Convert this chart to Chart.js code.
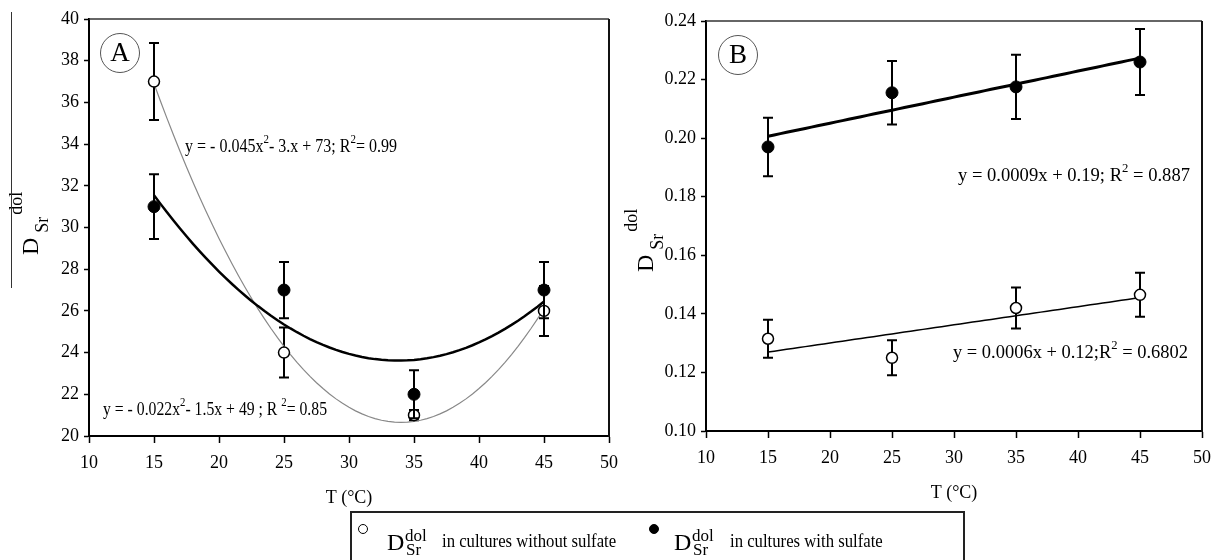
<!DOCTYPE html>
<html>
<head>
<meta charset="utf-8">
<script src="https://cdn.jsdelivr.net/npm/chart.js@4.4.1/dist/chart.umd.min.js"></script>
<style>
  body { margin: 0; background: #fff; width: 1211px; height: 560px; overflow: hidden; position: relative;
         font-family: "Liberation Serif", "Times New Roman", serif; color: #000; }
  .wrap { position: absolute; top: 0; height: 520px; }
  #wrapA { left: 0; width: 640px; }
  #wrapB { left: 610px; width: 620px; }
  #legend { position: absolute; left: 350px; top: 511px; width: 615px; height: 60px;
            border: 2px solid #222; border-bottom: none; box-sizing: border-box; }
  #legend span { position: absolute; line-height: 1; white-space: nowrap; }
  .mk { width: 8px; height: 8px; border-radius: 50%; border: 1.5px solid #000; background: #fff; }
  .mk.fill { background: #000; }
  .big { font-size: 24px; }
  .small { font-size: 17px; }
  .txt { font-size: 19px; transform: scaleX(0.88); transform-origin: left center; }
</style>
</head>
<body>
<div class="wrap" id="wrapA"><canvas id="chartA"></canvas></div>
<div class="wrap" id="wrapB"><canvas id="chartB"></canvas></div>
<div id="legend">
  <span class="mk" style="left:6px;top:11px"></span>
  <span class="big" style="left:35px;top:17px">D</span>
  <span class="small" style="left:53px;top:14px">dol</span>
  <span class="small" style="left:54px;top:28px">Sr</span>
  <span class="txt" style="left:90px;top:18px">in cultures without sulfate</span>
  <span class="mk fill" style="left:297px;top:11px"></span>
  <span class="big" style="left:322px;top:17px">D</span>
  <span class="small" style="left:340px;top:14px">dol</span>
  <span class="small" style="left:341px;top:28px">Sr</span>
  <span class="txt" style="left:378px;top:18px">in cultures with sulfate</span>
</div>
<script>
// data
const temps = [15, 25, 35, 45];

// panel A
const aNoSulfate = [37, 24, 21, 26];
const aNoSulfateErr = [1.85, 1.2, 0.25, 1.2];
const aSulfate = [31, 27, 22, 27];
const aSulfateErr = [1.55, 1.35, 1.15, 1.35];

// panel B
const bNoSulfate = [0.1315, 0.125, 0.142, 0.1465];
const bNoSulfateErr = [0.0065, 0.006, 0.007, 0.0075];
const bSulfate = [0.197, 0.2155, 0.2175, 0.226];
const bSulfateErr = [0.01, 0.0108, 0.011, 0.0113];

const FONT = '"Liberation Serif", "Times New Roman", serif';

// least squares polynomial fit (trend lines)
function polyFit(xs, ys, deg) {
    const n = deg + 1;
    const M = Array.from({ length: n }, () => Array(n + 1).fill(0));
    xs.forEach((x, i) => {
        for (let r = 0; r < n; r++) {
            for (let c = 0; c < n; c++) M[r][c] += Math.pow(x, r + c);
            M[r][n] += ys[i] * Math.pow(x, r);
        }
    });
    for (let i = 0; i < n; i++) {
        for (let k = i + 1; k < n; k++) {
            const f = M[k][i] / M[i][i];
            for (let c = i; c <= n; c++) M[k][c] -= f * M[i][c];
        }
    }
    const coef = Array(n).fill(0);
    for (let i = n - 1; i >= 0; i--) {
        let s = M[i][n];
        for (let c = i + 1; c < n; c++) s -= M[i][c] * coef[c];
        coef[i] = s / M[i][i];
    }
    return coef;
}

function trend(xs, ys, deg) {
    const c = polyFit(xs, ys, deg);
    const pts = [];
    for (let x = xs[0]; x <= xs[xs.length - 1] + 1e-9; x += 0.5) {
        pts.push({ x: x, y: c.reduce((s, k, i) => s + k * Math.pow(x, i), 0) });
    }
    return pts;
}

const toPts = (ys) => temps.map((t, i) => ({ x: t, y: ys[i] }));

// rich text with superscripts, squeezed to a given width
function richText(ctx, parts, x, y, size, width) {
    ctx.save();
    const fNorm = size + 'px ' + FONT;
    const fSup = Math.round(size * 0.7) + 'px ' + FONT;
    let w = 0;
    parts.forEach(p => { ctx.font = p[1] ? fSup : fNorm; w += ctx.measureText(p[0]).width; });
    ctx.translate(x, y);
    ctx.scale(width / w, 1);
    ctx.textBaseline = 'middle';
    ctx.fillStyle = '#000';
    let cx = 0;
    parts.forEach(p => {
        ctx.font = p[1] ? fSup : fNorm;
        ctx.fillText(p[0], cx, p[1] ? -size * 0.38 : 0);
        cx += ctx.measureText(p[0]).width;
    });
    ctx.restore();
}

function yTitle(ctx, x, y) {
    ctx.save();
    ctx.translate(x, y);
    ctx.rotate(-Math.PI / 2);
    ctx.fillStyle = '#000';
    ctx.textBaseline = 'alphabetic';
    ctx.font = '24px ' + FONT;
    ctx.fillText('D', 0, 0);
    const dw = ctx.measureText('D').width;
    ctx.font = '18px ' + FONT;
    ctx.fillText('Sr', dw + 5, 10);
    const sw = ctx.measureText('Sr').width;
    ctx.fillText('dol', dw + sw + 7, -16);
    ctx.restore();
}

function drawErrors(chart, which) {
    const ctx = chart.ctx;
    const xs = chart.scales.x, ys = chart.scales.y;
    ctx.save();
    ctx.strokeStyle = '#000';
    ctx.lineWidth = 2;
    chart.data.datasets.forEach(ds => {
        if (!ds.errors || ds.errLayer !== which) return;
        ds.data.forEach((p, i) => {
            const px = xs.getPixelForValue(p.x);
            const top = ys.getPixelForValue(p.y + ds.errors[i]);
            const bot = ys.getPixelForValue(p.y - ds.errors[i]);
            ctx.beginPath();
            ctx.moveTo(px, top); ctx.lineTo(px, bot);
            ctx.moveTo(px - 5, top); ctx.lineTo(px + 5, top);
            ctx.moveTo(px - 5, bot); ctx.lineTo(px + 5, bot);
            ctx.stroke();
        });
    });
    ctx.restore();
}

// open-series bars sit under the markers, filled-series bars are drawn over them
const errorBars = {
    id: 'errorBars',
    beforeDatasetsDraw(chart) { drawErrors(chart, 'under'); },
    afterDatasetsDraw(chart) { drawErrors(chart, 'over'); }
};

const decor = {
    id: 'decor',
    afterDraw(chart, args, opts) {
        const ctx = chart.ctx;
        const a = chart.chartArea;
        ctx.save();
        // top and right frame
        ctx.strokeStyle = '#333';
        ctx.lineWidth = 1.5;
        ctx.beginPath();
        ctx.moveTo(a.left, a.top); ctx.lineTo(a.right, a.top);
        ctx.stroke();
        ctx.lineWidth = 2;
        ctx.strokeStyle = '#111';
        ctx.beginPath();
        ctx.moveTo(a.right, a.top); ctx.lineTo(a.right, a.bottom + 1);
        ctx.stroke();
        // panel letter
        ctx.strokeStyle = '#555';
        ctx.lineWidth = 1;
        ctx.beginPath();
        ctx.arc(opts.label.x, opts.label.y, 19.5, 0, Math.PI * 2);
        ctx.stroke();
        ctx.fillStyle = '#000';
        ctx.font = '27px ' + FONT;
        ctx.textAlign = 'center';
        ctx.textBaseline = 'middle';
        ctx.fillText(opts.label.text, opts.label.x, opts.label.y + 1);
        ctx.restore();
        opts.eqs.forEach(e => richText(ctx, e.parts, e.x, e.y, 19, e.w));
        yTitle(ctx, opts.title.x, opts.title.y);
        if (opts.stray) {
            ctx.save();
            ctx.strokeStyle = '#333';
            ctx.lineWidth = 1;
            ctx.beginPath();
            ctx.moveTo(opts.stray.x, opts.stray.y0); ctx.lineTo(opts.stray.x, opts.stray.y1);
            ctx.stroke();
            ctx.restore();
        }
    }
};

function makeChart(id, cfg) {
    const tickFont = { family: FONT, size: 18 };
    return new Chart(document.getElementById(id), {
        type: 'scatter',
        data: {
            datasets: [
                { data: toPts(cfg.open), errors: cfg.openErr, errLayer: 'under', pointRadius: 5.5, pointBorderWidth: 1.5,
                  pointBackgroundColor: '#fff', pointBorderColor: '#000', order: 0 },
                { data: toPts(cfg.filled), errors: cfg.filledErr, errLayer: 'over', pointRadius: 6, pointBorderWidth: 1,
                  pointBackgroundColor: '#000', pointBorderColor: '#000', order: 0 },
                { type: 'line', data: trend(temps, cfg.open, cfg.deg), borderColor: cfg.openLine,
                  borderWidth: cfg.openLineW, pointRadius: 0, fill: false, order: 2 },
                { type: 'line', data: trend(temps, cfg.filled, cfg.deg), borderColor: '#000',
                  borderWidth: cfg.filledLineW, pointRadius: 0, fill: false, order: 1 }
            ]
        },
        options: {
            responsive: true,
            maintainAspectRatio: false,
            animation: false,
            layout: { padding: cfg.pad },
            plugins: { legend: { display: false }, tooltip: { enabled: false }, decor: cfg.decor },
            scales: {
                x: {
                    type: 'linear', min: 10, max: 50,
                    ticks: { stepSize: 5, color: '#000', font: tickFont, padding: 9, maxRotation: 0 },
                    grid: { drawOnChartArea: false, tickLength: 7, color: '#000', tickWidth: 1.5 },
                    border: { color: '#000', width: 2 },
                    title: { display: true, text: 'T (°C)', color: '#000', font: tickFont,
                             padding: { top: 0, bottom: cfg.titlePad } },
                    afterFit(s) { s.height = cfg.xh; }
                },
                y: {
                    min: cfg.ymin, max: cfg.ymax,
                    ticks: { stepSize: cfg.step, color: '#000', font: tickFont, padding: 5,
                             callback: v => cfg.fmt(v) },
                    grid: { drawOnChartArea: false, tickLength: 5, color: '#000', tickWidth: 1.5 },
                    border: { color: '#000', width: 2 },
                    afterFit(s) { s.width = cfg.yw; }
                }
            }
        },
        plugins: [errorBars, decor]
    });
}

makeChart('chartA', {
    open: aNoSulfate, openErr: aNoSulfateErr, filled: aSulfate, filledErr: aSulfateErr,
    deg: 2, openLine: '#888', openLineW: 1.2, filledLineW: 2.5,
    ymin: 20, ymax: 40, step: 2, fmt: v => String(Math.round(v)),
    pad: { top: 19, right: 31, left: 0, bottom: 0 }, xh: 84, yw: 89, titlePad: 11,
    decor: {
        label: { text: 'A', x: 120, y: 53 },
        title: { x: 38, y: 255 },
        stray: { x: 11.5, y0: 12, y1: 288 },
        eqs: [
            { parts: [['y = - 0.045x', 0], ['2', 1], ['- 3.x + 73; R', 0], ['2', 1], ['= 0.99', 0]], x: 185, y: 147, w: 212 },
            { parts: [['y = - 0.022x', 0], ['2', 1], ['- 1.5x + 49 ; R ', 0], ['2', 1], ['= 0.85', 0]], x: 103, y: 410, w: 224 }
        ]
    }
});

makeChart('chartB', {
    open: bNoSulfate, openErr: bNoSulfateErr, filled: bSulfate, filledErr: bSulfateErr,
    deg: 1, openLine: '#000', openLineW: 1.5, filledLineW: 3,
    ymin: 0.10, ymax: 0.24, step: 0.02, fmt: v => v.toFixed(2),
    pad: { top: 21, right: 28, left: 0, bottom: 0 }, xh: 89, yw: 96, titlePad: 16,
    decor: {
        label: { text: 'B', x: 128, y: 55 },
        title: { x: 43, y: 272 },
        eqs: [
            { parts: [['y = 0.0009x + 0.19; R', 0], ['2', 1], [' = 0.887', 0]], x: 348, y: 176, w: 232 },
            { parts: [['y = 0.0006x + 0.12;R', 0], ['2', 1], [' = 0.6802', 0]], x: 343, y: 353, w: 235 }
        ]
    }
});
</script>
</body>
</html>
